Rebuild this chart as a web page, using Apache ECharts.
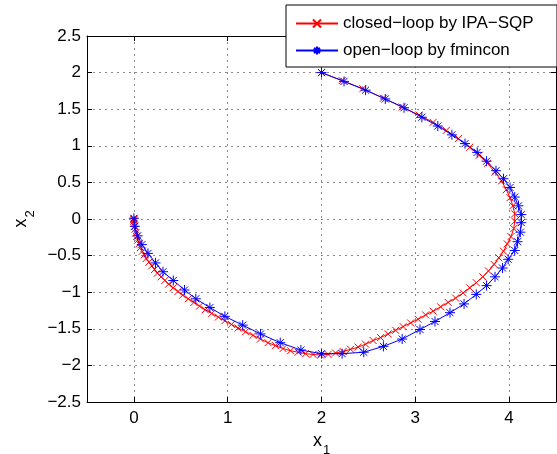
<!DOCTYPE html>
<html>
<head>
<meta charset="utf-8">
<script src="https://cdn.jsdelivr.net/npm/echarts@6/dist/echarts.min.js"></script>
<style>
html,body{margin:0;padding:0;background:#fff;}
#chart{width:557px;height:454px;}
</style>
</head>
<body>
<div id="chart"></div>
<script>
// ---- data ----
const seriesNames = ['closed\u2212loop by IPA\u2212SQP', 'open\u2212loop by fmincon'];

const closedLoopX = [2.00,2.22,2.44,2.66,2.86,3.04,3.19,3.33,3.46,3.58,3.68,3.77,3.85,3.92,3.97,4.01,4.04,4.06,4.06,4.05,4.02,3.98,3.94,3.89,3.84,3.78,3.72,3.65,3.58,3.51,3.43,3.35,3.27,3.19,3.11,3.03,2.95,2.87,2.79,2.71,2.63,2.55,2.47,2.39,2.31,2.23,2.15,2.07,1.99,1.91,1.83,1.75,1.67,1.59,1.51,1.43,1.35,1.27,1.19,1.11,1.04,0.97,0.90,0.83,0.76,0.70,0.64,0.58,0.52,0.47,0.42,0.37,0.33,0.29,0.25,0.22,0.19,0.16,0.13,0.11,0.09,0.07,0.055,0.04,0.03,0.02,0.012,0.006,0.002,0.0,0.0,0.0];
const closedLoopY = [2.00,1.89,1.78,1.65,1.53,1.42,1.32,1.21,1.10,0.98,0.87,0.76,0.64,0.52,0.40,0.29,0.18,0.07,-0.03,-0.13,-0.24,-0.34,-0.44,-0.53,-0.62,-0.71,-0.79,-0.87,-0.94,-1.01,-1.08,-1.14,-1.20,-1.26,-1.31,-1.37,-1.42,-1.47,-1.52,-1.57,-1.62,-1.66,-1.71,-1.75,-1.78,-1.81,-1.83,-1.85,-1.86,-1.85,-1.84,-1.82,-1.80,-1.77,-1.73,-1.69,-1.64,-1.59,-1.54,-1.49,-1.44,-1.39,-1.34,-1.29,-1.24,-1.19,-1.14,-1.09,-1.04,-0.99,-0.94,-0.89,-0.84,-0.79,-0.74,-0.69,-0.64,-0.59,-0.54,-0.49,-0.44,-0.39,-0.34,-0.29,-0.24,-0.19,-0.14,-0.10,-0.06,-0.03,-0.01,0.0];

const openLoopX = [2.00,2.24,2.47,2.68,2.88,3.07,3.24,3.39,3.53,3.66,3.76,3.86,3.94,4.01,4.06,4.10,4.13,4.13,4.12,4.09,4.06,3.99,3.93,3.85,3.76,3.65,3.52,3.37,3.21,3.05,2.86,2.66,2.45,2.22,2.00,1.78,1.56,1.35,1.16,0.97,0.81,0.66,0.54,0.42,0.31,0.23,0.15,0.085,0.04,0.01,0.0];
const openLoopY = [2.00,1.88,1.76,1.64,1.52,1.39,1.27,1.15,1.03,0.91,0.79,0.66,0.55,0.43,0.30,0.18,0.06,-0.05,-0.18,-0.31,-0.43,-0.55,-0.67,-0.79,-0.91,-1.03,-1.16,-1.28,-1.40,-1.51,-1.64,-1.74,-1.82,-1.84,-1.84,-1.79,-1.69,-1.57,-1.45,-1.33,-1.21,-1.09,-0.97,-0.84,-0.72,-0.60,-0.47,-0.35,-0.23,-0.10,0.01];

const xTickValues = [0, 1, 2, 3, 4];
const yTickValues = [-2.5, -2, -1.5, -1, -0.5, 0, 0.5, 1, 1.5, 2, 2.5];
const xRange = [-0.5, 4.5];
const yRange = [-2.5, 2.5];

// ---- chart ----
const FONT = '"Liberation Sans", Arial, Helvetica, sans-serif';
const zip = (xs, ys) => xs.map((x, i) => [x, ys[i]]);
const fmt = v => String(v).replace('-', '\u2212');
const ASTERISK = 'path://M5,0L5,10M0,5L10,5M1.46,1.46L8.54,8.54M8.54,1.46L1.46,8.54';
const CROSS = 'path://M0,0L10,10M10,0L0,10';

const gridLine = { show: true, lineStyle: { color: '#8a8a8a', type: [2, 4], width: 1 } };
const boxLine = { show: true, onZero: false, lineStyle: { color: '#000', width: 1 } };
const tick = { show: true, inside: true, length: 5, lineStyle: { color: '#000', width: 1 } };

const chart = echarts.init(document.getElementById('chart'), null, { renderer: 'canvas' });
chart.setOption({
  animation: false,
  backgroundColor: '#fff',
  grid: { left: 87, right: 1, top: 36, bottom: 52, containLabel: false, outerBoundsMode: 'none' },
  legend: {
    orient: 'vertical', left: 286, top: 5,
    padding: [10, 8, 8, 9], itemGap: 10, itemWidth: 42, itemHeight: 10,
    backgroundColor: '#fff', borderColor: '#000', borderWidth: 1, borderRadius: 0,
    textStyle: { fontFamily: FONT, fontSize: 17, color: '#000', width: 206, lineHeight: 14 },
    data: seriesNames
  },
  xAxis: [{
    type: 'value', position: 'bottom', min: xRange[0], max: xRange[1], splitNumber: 5,
    axisLine: boxLine, axisTick: tick, splitLine: gridLine,
    axisLabel: {
      show: true, margin: 8, color: '#000', fontFamily: FONT, fontSize: 17,
      showMinLabel: false, showMaxLabel: false,
      formatter: v => xTickValues.includes(v) ? fmt(v) : ''
    },
    name: '{a|x}{b|1}', nameLocation: 'middle', nameGap: 26,
    nameTextStyle: {
      rich: {
        a: { fontFamily: FONT, fontSize: 18, color: '#000', lineHeight: 18, verticalAlign: 'top' },
        b: { fontFamily: FONT, fontSize: 13, color: '#000', lineHeight: 13, padding: [12, 0, 0, 1], verticalAlign: 'top' }
      }
    }
  }, {
    type: 'value', position: 'top', min: xRange[0], max: xRange[1], splitNumber: 5,
    axisLine: boxLine, axisTick: tick, splitLine: { show: false }, axisLabel: { show: false }
  }],
  yAxis: [{
    type: 'value', position: 'left', min: yRange[0], max: yRange[1], interval: 0.5,
    axisLine: boxLine, axisTick: tick, splitLine: gridLine,
    axisLabel: {
      show: true, margin: 6, color: '#000', fontFamily: FONT, fontSize: 17,
      formatter: v => yTickValues.includes(v) ? fmt(v) : ''
    },
    name: '{a|x}{b|2}', nameLocation: 'middle', nameGap: 48, nameRotate: 90,
    nameTextStyle: {
      rich: {
        a: { fontFamily: FONT, fontSize: 18, color: '#000', lineHeight: 18, verticalAlign: 'top' },
        b: { fontFamily: FONT, fontSize: 13, color: '#000', lineHeight: 13, padding: [12, 0, 0, 1], verticalAlign: 'top' }
      }
    }
  }, {
    type: 'value', position: 'right', min: yRange[0], max: yRange[1], interval: 0.5,
    axisLine: boxLine, axisTick: tick, splitLine: { show: false }, axisLabel: { show: false }
  }],
  series: [{
    name: seriesNames[0], type: 'line', xAxisIndex: 0, yAxisIndex: 0,
    data: zip(closedLoopX, closedLoopY),
    symbol: CROSS, symbolSize: 7, showAllSymbol: true,
    lineStyle: { color: '#ff0000', width: 1 },
    itemStyle: { color: '#ff0000', borderColor: '#ff0000', borderWidth: 1 },
    z: 2
  }, {
    name: seriesNames[1], type: 'line', xAxisIndex: 0, yAxisIndex: 0,
    data: zip(openLoopX, openLoopY),
    symbol: ASTERISK, symbolSize: 10, showAllSymbol: true,
    lineStyle: { color: '#0000ff', width: 1 },
    itemStyle: { color: '#0000ff', borderColor: '#0000ff', borderWidth: 1 },
    z: 3
  }]
});
</script>
</body>
</html>
